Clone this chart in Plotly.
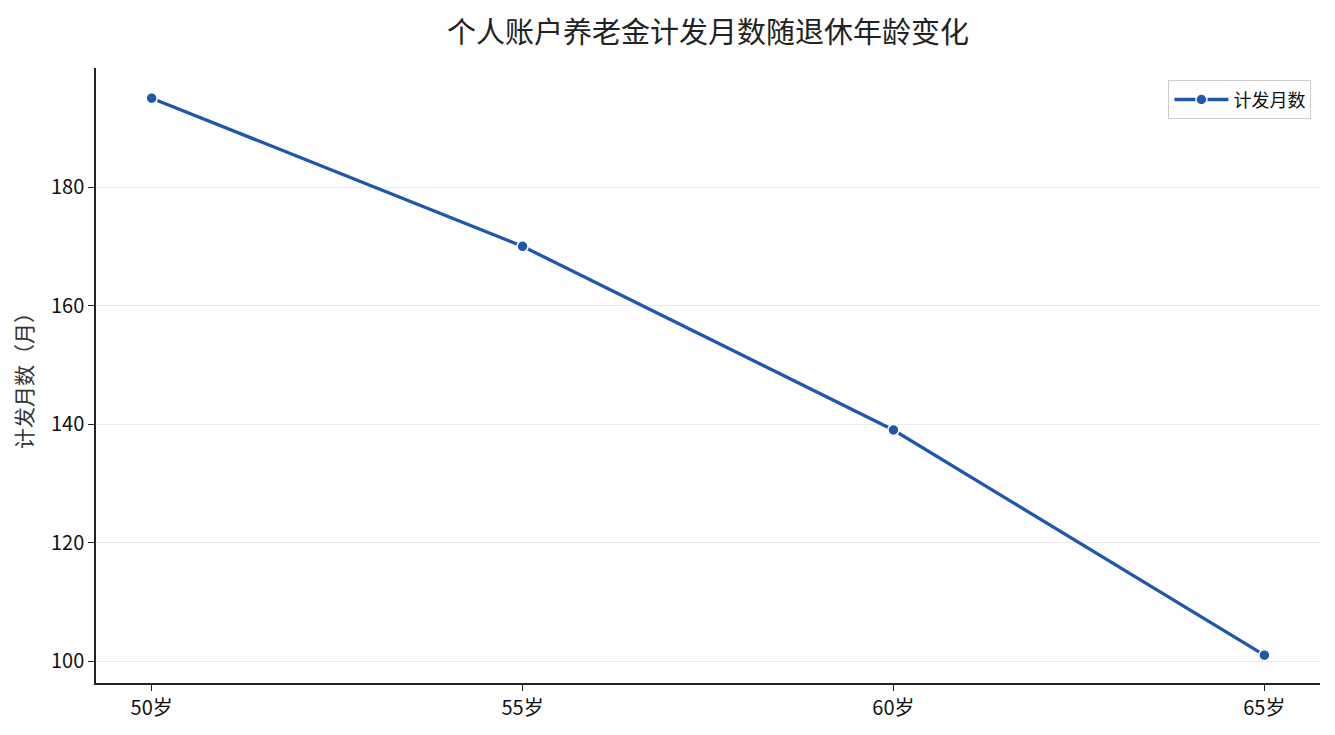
import plotly.graph_objects as go

# 退休年龄与个人账户养老金计发月数
ages = ["50岁", "55岁", "60岁", "65岁"]
months = [195, 170, 139, 101]

line_color = "#1f57ad"
font_family = "Noto Sans CJK SC, Noto Sans, sans-serif"

fig = go.Figure()
fig.add_trace(go.Scatter(
    x=ages,
    y=months,
    mode="lines+markers",
    name="计发月数",
    line=dict(color=line_color, width=3.3),
    marker=dict(size=11, color=line_color, line=dict(color="white", width=1.5)),
))

# 页面 body 有 8px 默认外边距，尺寸相应缩小
fig.update_layout(
    width=1319,
    height=719,
    title=dict(text="个人账户养老金计发月数随退休年龄变化", xref="paper", x=0.5, xanchor="center",
               y=0.966, yanchor="middle", font=dict(size=29, color="#222")),
    font=dict(family=font_family, size=20, color="#111"),
    plot_bgcolor="white",
    paper_bgcolor="white",
    margin=dict(l=88, r=7, t=60, b=44),
    showlegend=True,
    legend=dict(x=0.993, y=0.98, xanchor="right", yanchor="top",
                bordercolor="#cccccc", borderwidth=1, bgcolor="white",
                itemwidth=54, font=dict(size=18)),
)

fig.update_xaxes(
    type="category",
    range=[-0.15, 3.15],
    showline=True, linecolor="#222", linewidth=1.5,
    ticks="outside", ticklen=6, tickcolor="#222",
    showgrid=False, zeroline=False,
)
fig.update_yaxes(
    range=[96.3, 200.1],
    tickvals=[100, 120, 140, 160, 180],
    showline=True, linecolor="#222", linewidth=1.5,
    ticks="outside", ticklen=6, tickcolor="#222",
    showgrid=True, gridcolor="#ebebeb", gridwidth=1,
    zeroline=False,
    title=dict(text="计发月数（月）", font=dict(size=21, color="#333"), standoff=15),
)

fig.write_html("out.html")
